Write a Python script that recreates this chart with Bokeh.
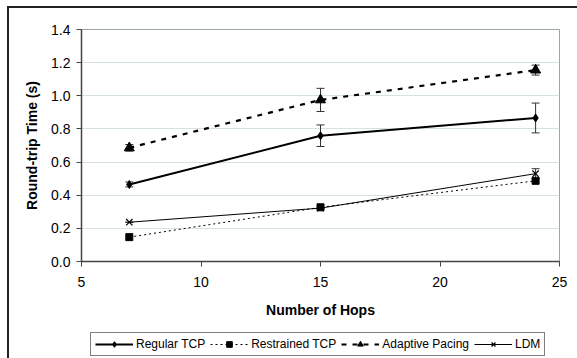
from bokeh.plotting import figure
from bokeh.layouts import column
from bokeh.models import (ColumnDataSource, Whisker, FixedTicker, NumeralTickFormatter,
                          Legend, LegendItem, Range1d)
from bokeh.embed import file_html
from bokeh.resources import INLINE

hops = [7, 15, 24]
regular = [0.465, 0.759, 0.866]
regular_err = [0.015, 0.065, 0.09]
restrained = [0.147, 0.327, 0.487]
adaptive = [0.686, 0.975, 1.155]
adaptive_err = [0.02, 0.07, 0.03]
ldm = [0.237, 0.322, 0.53]
ldm_err = [0.0, 0.0, 0.03]
series_names = ["Regular TCP", "Restrained TCP", "Adaptive Pacing", "LDM"]

x_ticks = [5, 10, 15, 20, 25]
y_ticks = [0.0, 0.2, 0.4, 0.6, 0.8, 1.0, 1.2, 1.4]

FONT = "Liberation Sans"
OFF_X = 9
OFF_Y = 8
MAIN_H = 317
LEFT = 81 - OFF_X
RIGHT = 18

p = figure(width=577 - OFF_X, height=MAIN_H, output_backend="svg", toolbar_location=None,
           x_range=Range1d(5, 25), y_range=Range1d(0, 1.4),
           min_border_left=LEFT, min_border_right=RIGHT, min_border_top=29 - OFF_Y,
           min_border_bottom=MAIN_H - (261 - OFF_Y))
p.background_fill_color = "white"
p.border_fill_color = "white"
p.outline_line_color = "#9aa6a6"
p.outline_line_width = 1

p.xgrid.grid_line_color = None
p.ygrid.grid_line_color = "#d6e2e2"
p.ygrid.grid_line_width = 1

for ax in (p.xaxis[0], p.yaxis[0]):
    ax.axis_line_color = "#444444"
    ax.axis_line_width = 1.5
    ax.major_tick_line_color = "#444444"
    ax.major_tick_out = 5
    ax.major_tick_in = 0
    ax.minor_tick_line_color = None
    ax.major_label_text_font = FONT
    ax.major_label_text_font_size = "14px"
    ax.major_label_text_color = "black"
    ax.axis_label_text_font = FONT
    ax.axis_label_text_font_style = "bold"
    ax.axis_label_text_font_size = "14px"
    ax.axis_label_text_color = "black"

p.xaxis.ticker = FixedTicker(ticks=x_ticks)
p.yaxis.ticker = FixedTicker(ticks=y_ticks)
p.yaxis.formatter = NumeralTickFormatter(format="0.0")
p.xaxis.axis_label = "Number of Hops"
p.yaxis.axis_label = "Round-trip Time (s)"
p.xaxis.major_label_standoff = 10
p.xaxis.axis_label_standoff = 12
p.yaxis.major_label_standoff = 6
p.yaxis.axis_label_standoff = 8

def err_source(y, e):
    return ColumnDataSource(dict(x=hops, lo=[a - b for a, b in zip(y, e)],
                                 hi=[a + b for a, b in zip(y, e)]))

for y, e in [(regular, regular_err), (adaptive, adaptive_err), (ldm, ldm_err)]:
    src = err_source(y, e)
    w = Whisker(source=src, base="x", lower="lo", upper="hi",
                line_color="#333333", line_width=1)
    w.upper_head.size = 8
    w.lower_head.size = 8
    w.upper_head.line_color = "#333333"
    w.lower_head.line_color = "#333333"
    p.add_layout(w)

def draw(fig):
    r = []
    r.append([fig.line(hops, regular, line_color="black", line_width=2),
              fig.scatter(hops, regular, marker="diamond", size=8, color="black")])
    r.append([fig.line(hops, restrained, line_color="black", line_width=1, line_dash="2 3"),
              fig.scatter(hops, restrained, marker="square", size=7, color="black")])
    r.append([fig.line(hops, adaptive, line_color="black", line_width=2.2, line_dash="5 6"),
              fig.scatter(hops, adaptive, marker="triangle", size=10, color="black")])
    r.append([fig.line(hops, ldm, line_color="black", line_width=1),
              fig.scatter(hops, ldm, marker="x", size=9, color="black", line_width=1.2)])
    return r

draw(p)

# legend strip below the chart (its own renderers lie outside its visible range)
LEG_H = 358 - OFF_Y - MAIN_H
q = figure(width=577 - OFF_X, height=LEG_H, output_backend="svg", toolbar_location=None,
           x_range=Range1d(100, 101), y_range=Range1d(100, 101),
           x_axis_type=None, y_axis_type=None,
           min_border_left=LEFT, min_border_right=RIGHT,
           min_border_top=0, min_border_bottom=0)
q.outline_line_color = None
q.xgrid.grid_line_color = None
q.ygrid.grid_line_color = None
q.background_fill_color = "white"
q.border_fill_color = "white"
leg_r = draw(q)

legend = Legend(items=[LegendItem(label=n, renderers=rs) for n, rs in zip(series_names, leg_r)],
                orientation="horizontal",
                location=(90 - OFF_X - LEFT, LEG_H - (356 - OFF_Y - MAIN_H)))
legend.label_text_font = FONT
legend.label_text_font_size = "12px"
legend.label_text_color = "black"
legend.glyph_width = 38
legend.glyph_height = 14
legend.label_standoff = 3
legend.spacing = 5
legend.padding = 4
legend.margin = 0
legend.border_line_color = "black"
legend.border_line_width = 1
legend.background_fill_alpha = 1
legend.label_height = 14
q.add_layout(legend, "center")

layout = column(p, q, spacing=0,
                styles={"border-left": "2px solid #222222",
                        "border-top": "2px solid #222222",
                        "margin-left": "7px", "margin-top": "6px"})

open("out.html", "w").write(file_html(layout, INLINE))
